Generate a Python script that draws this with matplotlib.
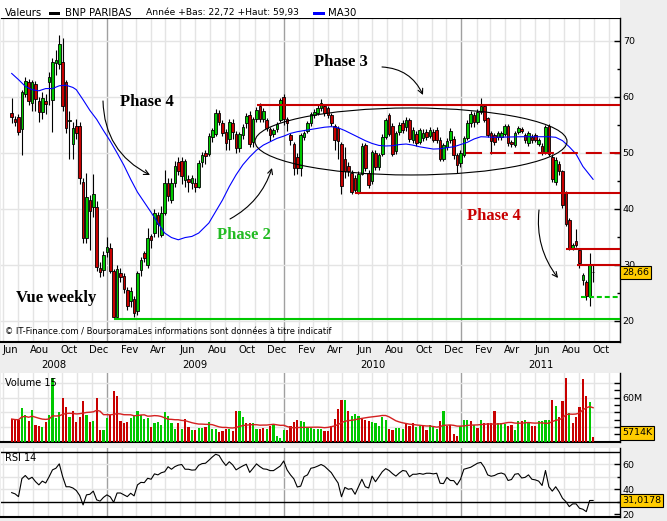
import numpy as np
import pandas as pd
import matplotlib
matplotlib.use("Agg")
import matplotlib.pyplot as plt
import matplotlib.dates as mdates
from matplotlib.patches import Ellipse, Rectangle

plt.rcParams["font.family"] = "DejaVu Sans"

# BNP PARIBAS, bougies hebdo juin 2008 -> sept 2011
weeks = pd.date_range("2008-06-19", periods=172, freq="7D")

opens = [57.1, 56.0, 56.5, 54.2, 60.6, 62.6, 59.0, 62.4, 59.2, 57.4,
         59.2, 62.7, 59.5, 66.0, 65.9, 66.3, 62.6, 55.7, 51.6, 54.9,
         54.9, 44.9, 34.9, 41.6, 40.4, 40.4, 29.4, 29.1, 32.3, 33.0,
         28.9, 20.8, 28.6, 28.1, 25.5, 23.6, 23.9, 21.7, 29.1, 32.1,
         30.0, 35.1, 35.7, 38.9, 35.4, 39.3, 44.6, 41.6, 44.7, 48.3,
         48.5, 45.1, 45.3, 44.6, 44.7, 44.0, 48.3, 50.0, 49.9, 52.9,
         53.4, 57.2, 55.3, 53.8, 52.5, 55.3, 53.3, 50.8, 53.2, 55.3,
         56.8, 52.0, 56.0, 58.4, 56.0, 55.9, 54.2, 53.3, 54.3, 55.9,
         60.0, 56.0, 53.2, 51.6, 49.3, 47.3, 52.9, 54.0, 55.3, 56.8,
         57.2, 58.0, 58.3, 58.0, 56.8, 54.8, 54.4, 51.6, 49.0, 47.7,
         46.5, 45.5, 42.8, 46.2, 51.4, 46.4, 45.0, 50.0, 47.5, 49.8,
         52.9, 56.8, 54.8, 50.3, 53.8, 55.4, 54.6, 55.9, 52.3, 53.4,
         52.0, 52.6, 53.8, 53.0, 53.8, 54.1, 52.4, 49.0, 51.0, 52.3,
         52.5, 49.6, 48.2, 49.6, 52.6, 55.3, 56.8, 55.6, 57.4, 58.3,
         56.2, 53.5, 53.2, 52.8, 52.9, 53.4, 54.8, 52.0, 51.4, 53.8,
         54.2, 53.2, 51.7, 52.9, 53.2, 51.6, 51.3, 50.1, 54.8, 49.3,
         44.9, 48.0, 46.7, 42.8, 38.0, 33.0, 34.3, 32.7, 27.3, 27.0,
         24.5, 28.8]
closes = [56.4, 55.6, 53.7, 60.8, 62.9, 59.2, 62.6, 59.6, 57.4, 59.8,
          58.8, 63.6, 66.2, 66.6, 69.5, 58.3, 54.4, 55.9, 54.5, 53.5,
          45.5, 34.9, 42.1, 39.6, 42.7, 29.6, 28.8, 31.7, 33.2, 29.0,
          20.8, 29.2, 27.9, 25.7, 22.6, 25.4, 21.4, 28.5, 30.9, 31.3,
          34.8, 34.5, 39.3, 37.4, 39.2, 44.6, 42.4, 44.7, 47.6, 46.7,
          45.8, 48.5, 44.9, 45.5, 44.0, 48.2, 49.6, 49.4, 53.1, 54.1,
          57.2, 55.6, 53.5, 51.7, 55.6, 53.8, 50.8, 53.3, 54.7, 56.6,
          51.6, 56.0, 57.6, 56.0, 57.5, 54.4, 53.2, 54.1, 55.2, 59.5,
          56.0, 55.3, 52.3, 47.3, 47.3, 53.2, 53.5, 55.3, 57.0, 57.4,
          58.0, 58.9, 57.1, 56.8, 55.3, 52.3, 52.2, 44.1, 46.7, 46.8,
          43.1, 43.4, 46.3, 51.3, 47.3, 44.3, 50.2, 47.5, 49.6, 52.9,
          55.9, 53.4, 49.9, 53.5, 55.0, 54.1, 55.9, 52.5, 54.1, 51.8,
          54.1, 53.6, 52.9, 54.1, 52.4, 52.3, 49.0, 51.4, 52.2, 54.0,
          49.6, 47.9, 50.0, 52.6, 55.3, 57.0, 55.6, 57.4, 58.3, 55.9,
          53.2, 52.2, 52.0, 53.5, 53.5, 54.8, 51.7, 51.6, 53.5, 54.4,
          54.0, 52.3, 53.5, 52.3, 52.3, 52.3, 50.1, 54.6, 49.9, 45.3,
          48.8, 46.7, 40.7, 37.4, 33.0, 33.6, 33.6, 30.3, 28.2, 24.5,
          30.0, 28.66]
highs = [59.8, 56.6, 57.0, 61.2, 63.6, 63.2, 63.0, 62.8, 60.0, 60.8,
         60.5, 64.5, 67.0, 68.4, 71.1, 70.5, 63.0, 57.5, 55.5, 56.0,
         55.5, 45.5, 46.5, 42.5, 46.2, 41.5, 30.5, 32.5, 35.0, 34.0,
         29.2, 30.0, 29.4, 28.5, 26.0, 26.0, 24.5, 29.0, 31.5, 32.5,
         36.6, 35.6, 40.0, 39.5, 40.5, 47.0, 45.5, 45.5, 48.5, 49.2,
         49.3, 49.0, 46.0, 46.0, 45.5, 48.8, 50.2, 50.5, 53.5, 54.5,
         57.8, 57.6, 55.8, 54.2, 56.0, 56.0, 54.0, 53.8, 55.2, 57.2,
         57.5, 56.5, 58.2, 59.0, 58.0, 56.3, 54.6, 54.5, 55.6, 59.9,
         60.6, 56.5, 53.6, 52.0, 50.0, 53.5, 54.0, 55.7, 57.4, 57.9,
         58.5, 59.6, 58.8, 58.4, 57.2, 55.2, 54.8, 52.0, 51.0, 48.3,
         47.0, 46.0, 46.8, 51.8, 51.8, 46.9, 50.6, 50.5, 50.0, 53.3,
         56.3, 57.2, 55.3, 54.0, 55.5, 55.8, 56.4, 56.3, 54.6, 54.0,
         54.5, 54.3, 54.2, 54.6, 54.3, 54.6, 52.8, 51.8, 52.7, 54.5,
         53.0, 50.0, 50.5, 53.0, 55.8, 57.5, 57.3, 57.9, 59.9, 58.8,
         56.5, 53.9, 53.6, 54.0, 54.0, 55.2, 55.2, 52.4, 53.9, 54.8,
         54.6, 53.6, 54.0, 53.3, 53.6, 52.7, 51.7, 55.0, 55.2, 49.8,
         49.2, 48.5, 47.0, 43.2, 38.4, 34.0, 36.4, 33.0, 28.6, 27.4,
         32.1, 30.0]
lows = [55.3, 54.9, 53.2, 49.6, 60.0, 58.5, 57.5, 57.5, 55.6, 56.0,
        57.0, 58.5, 53.8, 64.0, 65.0, 57.5, 53.5, 49.0, 49.0, 52.5,
        44.5, 34.0, 34.0, 32.7, 38.5, 29.0, 27.8, 28.0, 31.5, 28.5,
        20.5, 20.6, 27.0, 25.0, 22.0, 22.5, 20.8, 21.0, 28.0, 30.5,
        29.5, 33.0, 35.0, 35.0, 35.0, 39.0, 41.5, 41.0, 44.0, 46.0,
        44.5, 44.0, 43.0, 43.5, 43.0, 43.8, 47.5, 48.0, 49.5, 52.0,
        53.0, 55.0, 53.0, 50.5, 50.5, 52.5, 50.0, 50.2, 52.5, 54.5,
        51.0, 51.0, 55.5, 55.5, 55.5, 54.0, 52.2, 52.8, 53.8, 55.5,
        55.0, 54.0, 51.5, 46.0, 46.3, 45.8, 52.3, 53.5, 54.8, 56.2,
        56.8, 57.5, 56.6, 56.2, 54.8, 50.5, 49.0, 42.7, 45.5, 45.8,
        42.6, 42.8, 42.6, 46.0, 46.8, 43.8, 44.5, 47.0, 47.0, 49.5,
        52.5, 53.0, 49.5, 49.8, 53.2, 53.6, 54.0, 52.0, 51.8, 51.3,
        51.6, 52.2, 52.4, 52.7, 52.0, 51.8, 48.5, 48.6, 50.5, 51.8,
        49.0, 46.5, 47.5, 49.3, 52.3, 54.7, 54.6, 55.2, 57.0, 55.5,
        52.8, 49.9, 51.5, 52.3, 52.4, 53.0, 51.2, 51.0, 51.0, 53.4,
        53.6, 51.8, 51.3, 51.8, 51.9, 51.2, 49.7, 49.8, 49.5, 44.8,
        44.3, 46.0, 40.2, 37.0, 32.6, 32.7, 33.2, 29.5, 26.5, 23.8,
        22.72, 27.0]

# volume hebdo en millions de titres, g = hausse / r = baisse
volume = [30.8, 29.4, 29.4, 45.6, 36.8, 27.5, 43.8, 22.9, 21.1, 20.1,
          26.2, 36.8, 87.3, 31.7, 40.0, 59.5, 47.9, 34.0, 41.4, 27.1,
          33.1, 54.9, 36.8, 26.2, 27.5, 59.5, 16.4, 16.4, 31.7, 36.8,
          69.2, 62.3, 28.5, 25.2, 26.2, 31.7, 35.4, 42.4, 36.3, 30.8,
          31.7, 20.1, 24.8, 27.1, 22.9, 40.0, 35.4, 25.7, 17.8, 25.7,
          17.8, 30.8, 20.1, 16.0, 15.5, 19.2, 19.2, 20.1, 26.2, 16.9,
          16.9, 13.2, 14.6, 17.8, 16.9, 14.6, 42.4, 41.4, 33.1, 24.8,
          24.8, 24.8, 16.9, 16.9, 19.2, 16.9, 21.5, 22.5, 7.6, 5.3,
          16.4, 16.4, 21.5, 26.2, 29.4, 28.5, 26.2, 19.2, 19.2, 17.8,
          17.8, 17.8, 14.6, 14.6, 21.5, 30.3, 44.7, 57.6, 57.6, 42.4,
          35.4, 37.7, 35.4, 30.8, 29.9, 28.5, 26.2, 24.8, 21.5, 33.1,
          29.4, 16.9, 16.0, 18.3, 18.3, 17.4, 23.8, 21.5, 25.2, 20.1,
          21.1, 20.6, 16.0, 22.5, 20.1, 17.8, 27.5, 42.4, 21.5, 22.9,
          10.0, 7.6, 21.1, 29.9, 29.9, 27.5, 22.5, 18.3, 29.9, 25.2,
          25.2, 25.2, 42.4, 24.8, 24.8, 23.8, 21.1, 22.5, 16.0, 27.5,
          28.5, 29.4, 24.8, 21.1, 21.1, 28.5, 28.5, 29.9, 29.9, 57.6,
          49.3, 34.0, 55.3, 87.3, 38.7, 25.7, 34.0, 47.0, 85.4, 61.8,
          53.9, 5.714]
vol_dir = ("rrrggrgrrg" "rggggrrgrr" "rrgrgrrggr" "rrrrrggggg" "grgggggggr"
           "grrgrggrgg" "grrrgrrggr" "rggrrgrggg" "grrrrggggg" "ggrrrrrrgr"
           "gggrrrgggg" "grrgggrrrg" "grrgggrgrr" "rrgggrgrgr" "rrrgggrrgg"
           "rggrrggggr" "grrrgrrrrr" "gr")

rsi = [37.3, 36.3, 34.1, 48.5, 51.0, 48.0, 49.6, 46.1, 43.5, 46.5,
       45.0, 50.0, 55.5, 56.8, 60.3, 50.0, 42.0, 42.0, 41.0, 39.0,
       35.0, 27.5, 35.5, 36.0, 38.5, 31.5, 30.5, 33.5, 35.5, 33.9,
       29.5, 37.0, 37.0, 35.5, 34.1, 36.8, 34.7, 43.5, 45.5, 45.3,
       48.8, 48.0, 52.3, 51.5, 53.2, 54.0, 58.0, 56.0, 58.1, 59.3,
       59.8, 56.0, 56.0, 55.3, 55.5, 59.2, 60.5, 60.8, 63.2, 65.8,
       68.0, 67.0, 62.5, 59.0, 62.0, 59.5, 55.5, 57.2, 58.7, 60.0,
       53.5, 56.8, 60.3, 58.1, 56.3, 56.0, 54.9, 54.9, 56.8, 58.6,
       62.6, 55.5, 51.5, 48.3, 41.8, 42.5, 50.1, 51.5, 56.8, 57.4,
       58.5, 59.8, 58.4, 55.8, 53.3, 49.0, 45.0, 34.0, 41.5, 40.0,
       40.5, 36.0, 42.0, 48.0, 42.0, 41.0, 50.5, 46.0, 50.0, 54.0,
       56.5, 55.0, 52.5, 50.5, 53.0, 55.0, 54.5, 50.0, 52.0, 52.0,
       52.6, 52.0, 52.8, 52.8, 52.3, 52.8, 44.8, 44.5, 49.5, 47.0,
       46.9, 43.5, 48.0, 56.0, 56.8, 57.6, 59.2, 60.8, 61.5, 57.6,
       51.5, 50.4, 51.0, 52.4, 53.0, 52.0, 47.0, 47.8, 52.0, 52.5,
       49.0, 49.5, 51.5, 48.0, 47.5, 46.5, 43.0, 55.0, 42.0, 38.5,
       42.0, 38.0, 32.8, 30.1, 26.1, 28.3, 28.3, 24.8, 24.0, 22.1,
       31.0, 31.0178]

# moyenne mobile 30 semaines, relevee toutes les ~2 semaines (index de semaine)
ma30_week = [0, 2, 4, 6, 8, 10, 12, 14, 16, 18, 19, 21, 23, 25, 27, 29, 31, 33, 35, 37,
             39, 41, 43, 45, 47, 49, 51, 53, 55, 58, 62, 64, 66, 68, 70, 72, 74, 76, 78, 80,
             82, 84, 86, 88, 90, 92, 94, 96, 98, 100, 102, 104, 106, 108, 110, 112, 114, 116, 118, 120,
             122, 124, 126, 128, 130, 132, 134, 136, 138, 142, 146, 150, 154, 158, 160, 162, 164, 166, 168, 171]
ma30_val = [64.2, 63.1, 61.9, 61.3, 61.1, 61.5, 61.5, 62.0, 62.1, 61.7, 61.3, 59.5, 57.6, 56.0, 54.0, 52.1, 50.0, 47.8, 45.3, 43.0,
            41.2, 39.4, 37.5, 35.7, 34.9, 34.5, 34.9, 35.1, 35.7, 37.5, 41.6, 44.0, 46.1, 47.9, 49.3, 50.5, 51.4, 52.0, 52.6, 53.0,
            53.5, 53.8, 54.0, 54.2, 54.4, 54.6, 54.7, 54.5, 54.0, 53.4, 52.8, 52.2, 51.7, 51.35, 51.25, 51.3, 51.5, 51.6, 51.4, 51.1,
            50.9, 50.7, 50.75, 50.95, 51.1, 51.5, 51.9, 52.5, 52.9, 52.8, 52.85, 52.9, 52.9, 52.9, 52.8, 52.2, 51.1, 49.8, 47.6, 45.3]

# niveaux traces a la main: (prix, debut)
red_levels = [58.6, 42.8, 32.8, 30.0]
red_starts = ["2009-11-06", "2010-05-26", "2011-08-04", "2011-08-27"]
resist_50, resist_50_start = 50.0, "2011-01-11"
support_low, support_low_start = 20.4, "2009-01-18"
support_dash, support_dash_start = 24.2, "2011-09-04"

month_names = {2: "Fev", 4: "Avr", 6: "Jun", 8: "Aou", 10: "Oct", 12: "Dec"}

GREEN = "#00C800"
RED = "#C80000"
GRID = "#E4E4E4"
YEARLINE = "#A0A0A0"

W, H = 667, 521
fig = plt.figure(figsize=(W / 100, H / 100), dpi=100)
fig.patch.set_facecolor("#EEEEEE")
fig.patches.append(Rectangle((0, 1 - 18 / H), 620 / W, 18 / H, transform=fig.transFigure,
                             fc="white", ec="none", zorder=0))


def box(top, bottom, left=1, right=620):
    return [left / W, 1 - bottom / H, (right - left) / W, (bottom - top) / H]


ax = fig.add_axes(box(18, 342))
axv = fig.add_axes(box(373, 441.5))
axr = fig.add_axes(box(448, 517))

dn = lambda s: mdates.date2num(pd.Timestamp(s))
X0 = dn("2008-05-28")
X1 = X0 + 619 * 7 / 3.4
x = mdates.date2num(weeks.to_pydatetime())


def at(px, py):
    # pixel of the 667x521 picture -> (date, prix) du panneau principal
    return X0 + (px - 1) * 7 / 3.4, 50 + (153 - py) / 5.6


# grille
months = pd.date_range("2008-06-01", "2011-11-01", freq="MS")
for a in (ax, axv, axr):
    a.set_xlim(X0, X1)
    for m in months:
        a.axvline(mdates.date2num(m), color=YEARLINE if m.month == 1 else GRID, lw=1, zorder=0)
for v in range(20, 71, 10):
    ax.axhline(v, color=GRID, lw=1, zorder=0)
for v in (20, 40, 60, 80):
    axv.axhline(v, color=GRID, lw=1, zorder=0)
for v in (40, 50, 60):
    axr.axhline(v, color=GRID, lw=1, zorder=0)

# bougies
o = np.array(opens)
c = np.array(closes)
up = c >= o
ax.vlines(x, lows, highs, color="black", lw=0.8, zorder=3)
ax.bar(x, np.maximum(np.abs(c - o), 0.15), bottom=np.minimum(o, c), width=5.6,
       color=np.where(up, GREEN, RED), edgecolor="black", linewidth=0.6, zorder=4)
ax.plot(x[0] + np.array(ma30_week) * 7, ma30_val, color="#0000FF", lw=0.8, zorder=5)

# lignes de support / resistance
for lev, st in zip(red_levels, red_starts):
    ax.plot([dn(st), X1], [lev, lev], color=RED, lw=1.5, zorder=6, solid_capstyle="butt")
ax.plot([dn(resist_50_start), X1], [resist_50] * 2, color=RED, lw=1.5, dashes=(7.7, 3.8), zorder=6)
ax.plot([dn(support_low_start), X1], [support_low] * 2, color=GREEN, lw=1.5, zorder=6)
ax.plot([dn(support_dash_start), X1], [support_dash] * 2, color=GREEN, lw=1.5, dashes=(2.4, 1.4), zorder=6)

# annotations
ax.add_patch(Ellipse(at(411, 141.5), width=312 * 7 / 3.4, height=67 / 5.6, fill=False,
                     ec="black", lw=0.8, zorder=6))


def arrow(p0, p1, rad):
    ax.annotate("", xy=at(*p1), xytext=at(*p0),
                arrowprops=dict(arrowstyle="->", color="black", lw=0.8, shrinkA=0, shrinkB=0,
                                mutation_scale=9, connectionstyle=f"arc3,rad={rad}"), zorder=7)


arrow((103, 101), (150, 175), 0.3)
arrow((230, 219), (272, 168), 0.2)
arrow((382, 67), (423, 95), -0.3)
arrow((539, 210), (558, 278), 0.2)

serif = dict(family="Liberation Serif", fontweight="bold", fontsize=12, ha="center", va="center", zorder=8)
ax.text(*at(146.5, 102.5), "Phase 4", color="black", **serif)
ax.text(*at(56, 298.5), "Vue weekly", color="black", **serif)
ax.text(*at(244, 235.5), "Phase 2", color="#22BB22", **serif)
ax.text(*at(341, 62), "Phase 3", color="black", **serif)
ax.text(*at(494, 216), "Phase 4", color=RED, **serif)

ax.text(4 / 619, 10 / 324, "© IT-Finance.com / BoursoramaLes informations sont données à titre indicatif",
        transform=ax.transAxes, fontsize=6.0, va="center", ha="left", zorder=8)

# axe des dates
for m in pd.date_range("2008-06-01", "2011-10-01", freq="2MS"):
    ax.text(mdates.date2num(m) + 15, -8 / 324, month_names[m.month], transform=ax.get_xaxis_transform(),
            ha="center", va="center", fontsize=7.2, clip_on=False)
years = {"2008": (X0 + dn("2009-01-01")) / 2, "2009": dn("2009-07-02"),
         "2010": dn("2010-07-02"), "2011": (dn("2011-01-01") + X1) / 2}
for name, pos in years.items():
    ax.text(pos, -23 / 324, name, transform=ax.get_xaxis_transform(),
            ha="center", va="center", fontsize=7.2, clip_on=False)

# volume
axv.bar(x, volume, width=4.6, color=[GREEN if d == "g" else RED for d in vol_dir], zorder=3)
axv.plot(x, pd.Series(volume).rolling(15, min_periods=1).mean(), color="#D42020", lw=1, zorder=4)
axv.text(4 / 619, 0.85, "Volume 15", transform=axv.transAxes, fontsize=7, va="center")

# RSI
axr.plot(x, rsi, color="black", lw=0.8, zorder=4)
axr.axhline(70, color="black", lw=1, zorder=3)
axr.axhline(30, color="black", lw=1, zorder=3)
axr.text(4 / 619, 0.86, "RSI 14", transform=axr.transAxes, fontsize=7, va="center")

# axes de droite
for a in (ax, axv, axr):
    a.set_facecolor("white")
    a.tick_params(axis="x", bottom=False, labelbottom=False)
    a.yaxis.tick_right()
    a.tick_params(axis="y", which="both", direction="in", labelsize=6.8, pad=2, width=1)
    a.tick_params(axis="y", which="major", length=4)
    a.tick_params(axis="y", which="minor", length=2)
    a.spines["left"].set_visible(False)
    a.spines["top"].set_visible(False)
    a.spines["right"].set_linewidth(1)
    a.spines["bottom"].set_linewidth(1.5)
ax.spines["top"].set_visible(True)

ax.set_ylim(16.25, 74.1)
ax.set_yticks(range(20, 71, 10))
ax.set_yticks([25, 35, 45, 55, 65], minor=True)
axv.set_ylim(0, 94)
axv.set_yticks(range(10, 81, 10))
axv.set_yticklabels(["60M" if v == 60 else "" for v in range(10, 81, 10)])
axr.set_ylim(17.8, 73)
axr.set_yticks([20, 40, 60])
axr.set_yticks([30, 50], minor=True)


def value_box(a, y, txt, va="center"):
    a.text(1 + 2 / 619, y, txt, transform=a.get_yaxis_transform(), ha="left", va=va, fontsize=6.8,
           bbox=dict(boxstyle="square,pad=0.25", fc="#FFCC00", ec="black", lw=0.8), zorder=10, clip_on=False)


value_box(ax, closes[-1], f"{closes[-1]:.2f}".replace(".", ","))
value_box(axv, volume[-1], f"{volume[-1] * 1000:.0f}K", va="bottom")
value_box(axr, rsi[-1], f"{rsi[-1]:.4f}".replace(".", ","))

# en-tete
ty = 1 - 13 / H
fig.text(5 / W, ty, "Valeurs", fontsize=7.3, va="center")
fig.patches.append(Rectangle((49 / W, 1 - 15 / H), 11 / W, 3 / H, transform=fig.transFigure, fc="black", ec="none"))
fig.text(65 / W, ty, "BNP PARIBAS", fontsize=7.3, va="center")
fig.text(146 / W, ty, "Année +Bas: 22,72 +Haut: 59,93", fontsize=6.6, va="center")
fig.patches.append(Rectangle((313 / W, 1 - 15 / H), 12 / W, 3 / H, transform=fig.transFigure, fc="#0000FF", ec="none"))
fig.text(328 / W, ty, "MA30", fontsize=7.3, va="center")

fig.savefig("out.png", dpi=100, facecolor=fig.get_facecolor())
